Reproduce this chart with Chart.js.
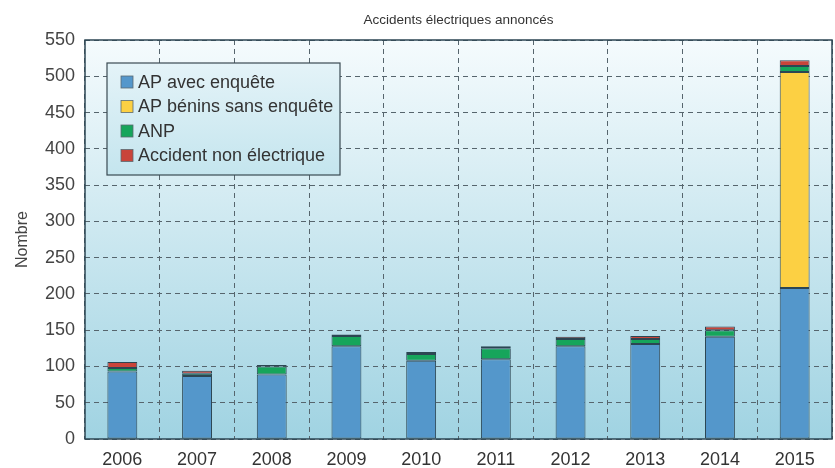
<!DOCTYPE html>
<html>
<head>
  <title>Accidents électriques annoncés</title>
  <script src="https://cdn.jsdelivr.net/npm/chart.js"></script>
  <style>
    html, body { margin: 0; padding: 0; background: #fff; }
    #wrap { width: 835px; height: 468px; }
  </style>
</head>
<body>
<div id="wrap"><canvas id="myChart" width="835" height="468"></canvas></div>

<script>
  // Data
  var years = ['2006', '2007', '2008', '2009', '2010', '2011', '2012', '2013', '2014', '2015'];
  var apAvecEnquete = [93, 87, 89, 128, 108, 110, 128, 131, 141, 208];
  var apBenins = [0, 0, 0, 0, 0, 0, 0, 0, 0, 298];
  var anp = [5, 3, 11, 14, 9, 15, 10, 7, 9, 8];
  var nonElectrique = [8, 4, 2, 2, 3, 3, 3, 4, 5, 8];
  var seriesNames = ['AP avec enquête', 'AP bénins sans enquête', 'ANP', 'Accident non électrique'];
  var seriesColors = ['#5497cb', '#fcd043', '#16a55b', '#c9443a'];
  var chartTitle = 'Accidents électriques annoncés';

  var FONT = 'Liberation Sans, Arial, sans-serif';
  var EDGE = '#2c4653';

  // gradient plot background, frame, title and legend box
  var plotBackground = {
    id: 'plotBackground',
    beforeDraw: function(chart) {
      var a = chart.chartArea, ctx = chart.ctx;
      var g = ctx.createLinearGradient(0, a.top, 0, a.bottom);
      g.addColorStop(0, '#f5fbfd');
      g.addColorStop(1, '#a0d3e2');
      ctx.save();
      ctx.fillStyle = g;
      ctx.fillRect(a.left, a.top, a.right - a.left, a.bottom - a.top);
      ctx.restore();
    },
    afterDraw: function(chart) {
      var a = chart.chartArea, ctx = chart.ctx;
      ctx.save();
      ctx.strokeStyle = EDGE;
      ctx.lineWidth = 1.5;
      ctx.strokeRect(a.left, a.top, a.right - a.left, a.bottom - a.top);

      // title centred over the plot
      ctx.fillStyle = '#333';
      ctx.font = '13.5px ' + FONT;
      ctx.textAlign = 'center';
      ctx.textBaseline = 'middle';
      ctx.fillText(chartTitle, (a.left + a.right) / 2, 20);

      // legend box inside the plot
      var x = a.left + 22, y = a.top + 23, w = 233, h = 112;
      var g = ctx.createLinearGradient(0, y, 0, y + h);
      g.addColorStop(0, '#e4f3f8');
      g.addColorStop(1, '#c4e5ee');
      ctx.fillStyle = g;
      ctx.fillRect(x, y, w, h);
      ctx.strokeStyle = '#3a4a52';
      ctx.lineWidth = 1.2;
      ctx.strokeRect(x, y, w, h);
      ctx.font = '18px ' + FONT;
      ctx.textAlign = 'left';
      chart.data.datasets.forEach(function(ds, i) {
        var cy = y + 19 + i * 24.5;
        ctx.fillStyle = ds.backgroundColor;
        ctx.fillRect(x + 14, cy - 6, 12, 12);
        ctx.strokeStyle = '#5a6a72';
        ctx.lineWidth = 0.8;
        ctx.strokeRect(x + 14, cy - 6, 12, 12);
        ctx.fillStyle = '#333';
        ctx.fillText(ds.label, x + 31, cy + 1);
      });
      ctx.restore();
    }
  };

  var series = [apAvecEnquete, apBenins, anp, nonElectrique];
  var datasets = series.map(function(values, i) {
    return {
      label: seriesNames[i],
      data: values,
      backgroundColor: seriesColors[i],
      borderColor: EDGE,
      borderWidth: function(c) { return c.raw ? 1 : 0; },
      borderSkipped: false
    };
  });

  var ctx = document.getElementById('myChart').getContext('2d');
  var chart = new Chart(ctx, {
    type: 'bar',
    data: { labels: years, datasets: datasets },
    plugins: [plotBackground],
    options: {
      responsive: false,
      animation: false,
      layout: { padding: { left: 0, right: 3, top: 40, bottom: 0 } },
      categoryPercentage: 1,
      barPercentage: 0.4,
      plugins: {
        legend: { display: false },
        tooltip: { enabled: false },
        title: { display: false }
      },
      scales: {
        x: {
          stacked: true,
          offset: true,
          grid: {
            offset: true,
            color: '#56656d',
            lineWidth: 1,
            drawTicks: false
          },
          border: { display: false, dash: [5, 4] },
          ticks: { color: '#333', padding: 10, font: { family: FONT, size: 18 } },
          afterFit: function(s) { s.height = 29; }
        },
        y: {
          stacked: true,
          min: 0,
          max: 550,
          ticks: { stepSize: 50, color: '#444', padding: 10, font: { family: FONT, size: 18 } },
          grid: { color: '#56656d', lineWidth: 1, drawTicks: false },
          border: { display: false, dash: [5, 4] },
          title: {
            display: true,
            text: 'Nombre',
            color: '#444',
            font: { family: FONT, size: 16 },
            padding: { top: 13, bottom: 0 }
          },
          afterFit: function(s) { s.width = 85; }
        }
      }
    }
  });
</script>
</body>
</html>
